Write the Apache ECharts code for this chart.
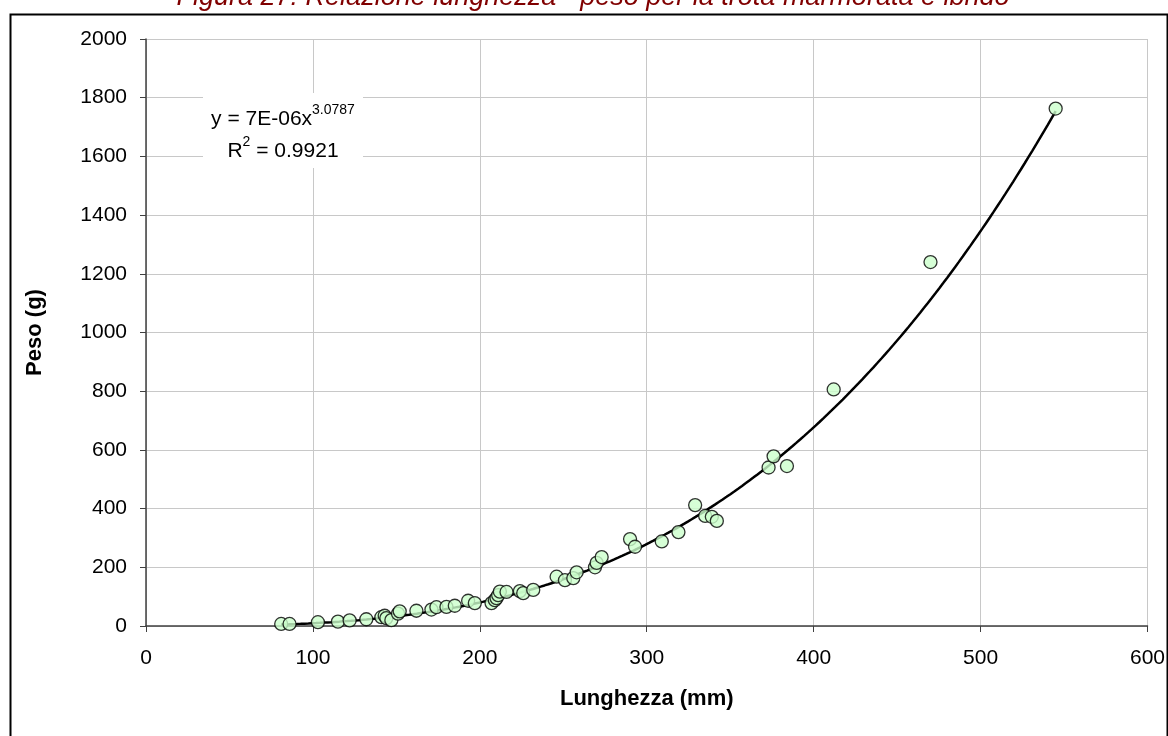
<!DOCTYPE html>
<html><head><meta charset="utf-8">
<script src="https://cdn.jsdelivr.net/npm/echarts@6/dist/echarts.min.js"></script>
<style>html,body{margin:0;padding:0;background:#fff}#c{width:1168px;height:736px}</style>
</head><body><div id="c"></div>
<script>
const titleText = 'Figura 27: Relazione lunghezza - peso per la trota marmorata e ibrido';
const xAxisName = 'Lunghezza (mm)';
const yAxisName = 'Peso (g)';
const eqLine1 = 'y = 7E-06x';
const eqExp = '3.0787';
const eqR2 = ' = 0.9921';

const lunghezza = [81, 86, 103, 115, 122, 132, 141, 143, 144, 147, 151, 152, 162, 171, 174, 180, 185, 193, 197, 207, 209, 210, 211, 212, 216, 224, 226, 232, 246, 251, 256, 258, 269, 270, 273, 290, 293, 309, 319, 329, 335, 339, 342, 373, 376, 384, 412, 470, 545];
const peso = [7, 7, 13, 15, 19, 23, 30, 35, 27, 20, 42, 50, 52, 56, 64, 65, 69, 86, 78, 78, 88, 95, 105, 117, 116, 119, 112, 123, 168, 156, 163, 183, 200, 215, 235, 296, 270, 288, 320, 412, 375, 372, 358, 540, 578, 545, 806, 1240, 1763];

// Power trendline y = A * x^B (exponent from the chart's equation label;
// unrounded coefficient read from where the curve runs)
const TREND_A = 6.6e-6;
const TREND_B = 3.0787;

const xMin = 0, xMax = 600, xStep = 100;
const yMin = 0, yMax = 2000, yStep = 200;

const xLo = Math.min(...lunghezza), xHi = Math.max(...lunghezza);
const trend = [];
for (let i = 0; i <= 200; i++) {
  const x = xLo + (xHi - xLo) * i / 200;
  trend.push([x, TREND_A * Math.pow(x, TREND_B)]);
}
const points = lunghezza.map((x, i) => [x, peso[i]]);

const chart = echarts.init(document.getElementById('c'), null, { renderer: 'canvas' });
const FONT = 'Arial, "Liberation Sans", sans-serif';
chart.setOption({
  animation: false,
  backgroundColor: '#ffffff',
  grid: { left: 146, right: 16, top: 39, bottom: 110, containLabel: false },
  xAxis: {
    type: 'value', min: xMin, max: xMax, interval: xStep,
    name: xAxisName, nameLocation: 'middle', nameGap: 62,
    nameTextStyle: { fontFamily: FONT, fontSize: 22, fontWeight: 'bold', color: '#000' },
    axisLine: { show: true, onZero: false, lineStyle: { color: '#404040', width: 1.5 } },
    axisTick: { show: true, inside: false, length: 6, lineStyle: { color: '#404040' } },
    axisLabel: { fontFamily: FONT, fontSize: 21, color: '#000', margin: 22, formatter: v => String(v) },
    splitLine: { show: true, lineStyle: { color: '#c8c8c8', width: 1 } }
  },
  yAxis: {
    type: 'value', min: yMin, max: yMax, interval: yStep,
    name: yAxisName, nameLocation: 'middle', nameGap: 100, nameRotate: 90,
    nameTextStyle: { fontFamily: FONT, fontSize: 22, fontWeight: 'bold', color: '#000' },
    axisLine: { show: true, onZero: false, lineStyle: { color: '#404040', width: 1.5 } },
    axisTick: { show: true, inside: false, length: 6, lineStyle: { color: '#404040' } },
    axisLabel: { fontFamily: FONT, fontSize: 21, color: '#000', margin: 19, formatter: v => String(v) },
    splitLine: { show: true, lineStyle: { color: '#c8c8c8', width: 1 } }
  },
  series: [
    {
      type: 'line', data: trend, showSymbol: false, symbol: 'none', smooth: false,
      lineStyle: { color: '#000', width: 2.5 }, z: 3, silent: true
    },
    {
      type: 'scatter', data: points, symbol: 'circle', symbolSize: 13,
      itemStyle: { color: '#ccffcc', borderColor: '#000', borderWidth: 1.3 }, z: 4
    }
  ],
  graphic: [
    { type: 'rect', left: 8, top: 12, shape: { width: 1157, height: 740 },
      style: { fill: 'none', stroke: '#000', lineWidth: 2 }, z: 100, silent: true },
    { type: 'text', x: 593, y: -3, z: 100,
      style: { text: titleText, font: 'italic 27px ' + FONT, fill: '#800000', align: 'center', verticalAlign: 'middle' } },
    { type: 'rect', shape: { x: 203, y: 93, width: 160, height: 75 }, style: { fill: '#fff' }, z: 50 },
    { type: 'text', x: 283, y: 135, z: 51,
      style: {
        text: '{n|' + eqLine1 + '}{s|' + eqExp + '}\n{n|R}{s|2}{n|' + eqR2 + '}',
        align: 'center', verticalAlign: 'middle',
        rich: {
          n: { fontFamily: FONT, fontSize: 21, fill: '#000', lineHeight: 32 },
          s: { fontFamily: FONT, fontSize: 14, fill: '#000', lineHeight: 32, verticalAlign: 'top' }
        }
      } }
  ]
});
</script>
</body></html>
